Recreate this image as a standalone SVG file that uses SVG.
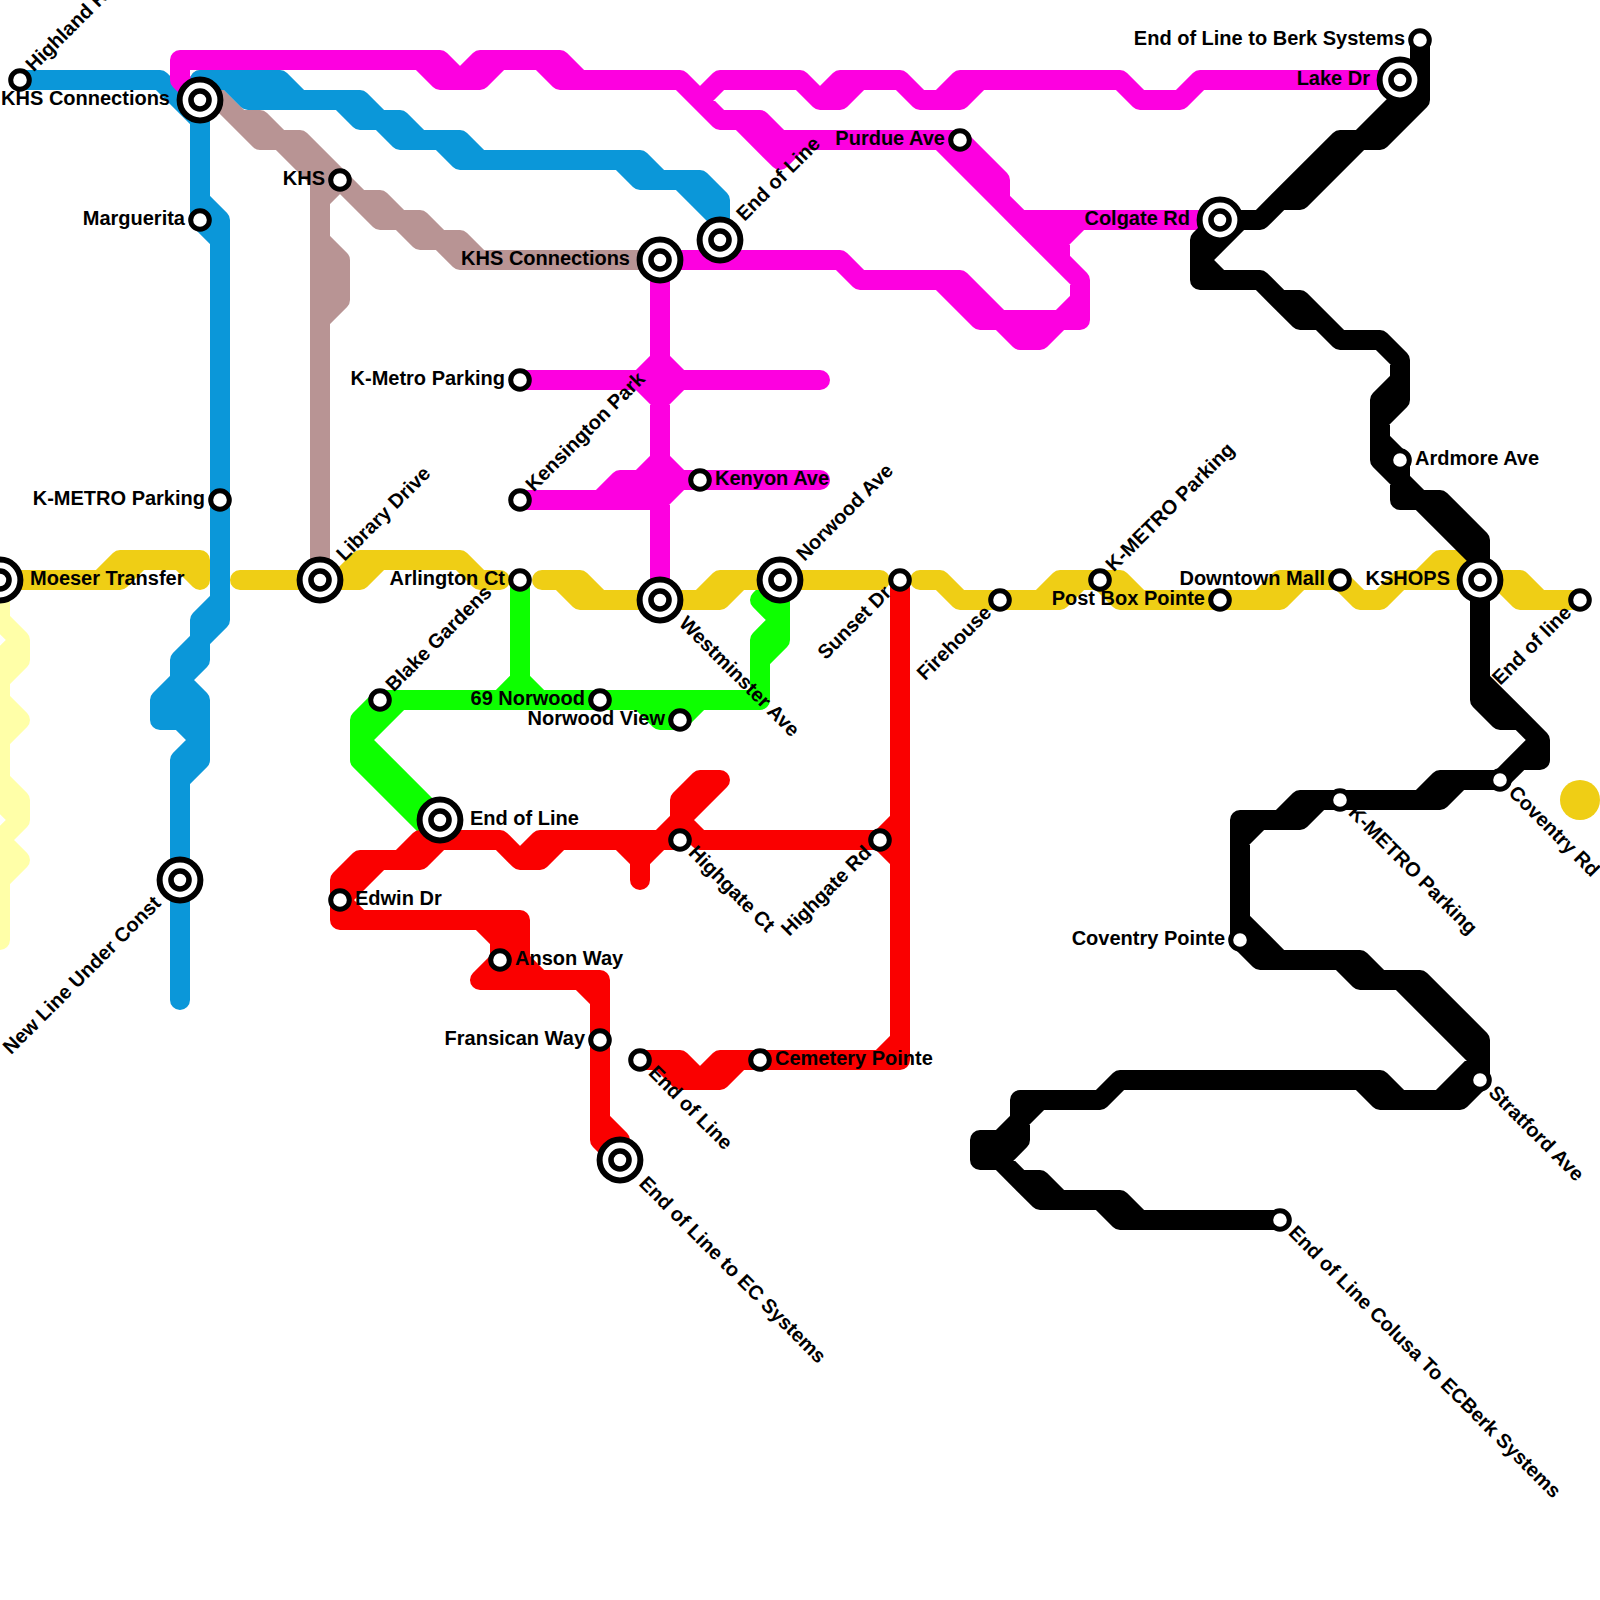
<svg xmlns="http://www.w3.org/2000/svg" width="1600" height="1600" viewBox="0 0 1600 1600">
<style>
.l{fill:none;stroke-width:20;stroke-linecap:round;stroke-linejoin:round}
.s{fill:#fff;stroke:#000;stroke-width:5}
.o{fill:#fff;stroke:#000;stroke-width:6}
.c{fill:#fff;stroke:#000;stroke-width:5.6}
text{font-family:"Liberation Sans",Arial,sans-serif;font-size:20px;font-weight:700;fill:#000}
.e{text-anchor:end}
</style>
<defs>
<g id="small"><circle class="s" r="9.3"/></g>
<g id="big"><circle class="o" r="20.4"/><circle class="c" r="9"/></g>
</defs>
<rect width="1600" height="1600" fill="#fff"/>
<g id="connectors">
<path class="l" stroke="#ffffa8" d="M0 580L0 620L20 640L20 660L0 680L0 700L20 720L0 740L0 780L20 800L20 820L0 840L20 860L0 880L0 940M20 640L0 660L0 780L0 800L20 820M0 840L0 880"/>
<path class="l" stroke="#0dff00" d="M520 580L520 700M500 700L520 680L540 700M380 700L760 700M400 700L360 740L440 820M380 700L360 720L360 760L440 840M640 700L660 720L680 720L700 700M780 580L780 640L760 660L760 700M780 620L760 640L760 660M780 580L760 600L780 620"/>
<path class="l" stroke="#efce15" d="M0 580L120 580L140 560L200 560L200 580M100 580L120 560L140 560M180 560L200 580M240 580L360 580L380 560M340 580L360 560L460 560L480 580L500 580M542 580L580 580L600 600L720 600L740 580L880 580M560 580L580 600L600 600M700 600L720 580L740 580M920 580L940 580L960 600L1040 600L1060 580L1120 580L1140 600L1280 600L1300 580L1340 580L1360 600L1380 600L1400 580L1520 580L1540 600L1580 600M1040 600L1060 600L1080 580M1100 580L1120 600L1140 600M1260 600L1280 580L1300 580M1420 580L1440 560L1460 560L1480 580M1500 580L1520 600L1540 600"/>
<circle cx="1580" cy="800" r="20" fill="#efce15"/>
<path class="l" stroke="#b89494" d="M200 80L260 140L280 140L320 180L320 580M240 120L260 120L280 140L300 140L380 220L400 220L420 240L440 240L460 260L660 260M360 200L380 200L400 220L420 220L440 240L460 240L480 260M340 180L320 200M320 240L340 260L340 300L320 320M330 250L330 310"/>
<path class="l" stroke="#0b97d9" d="M20 80L160 80L200 120L200 220L220 240L220 620L200 640L200 660L180 680L160 700L160 720L180 720L200 740L180 760L180 780M200 200L220 220L220 240M220 600L200 620L200 640L180 660L180 680L200 700L200 760L180 780L180 1000M160 700L180 700M170 710L190 710"/>
<path class="l" stroke="#fd00e0" d="M180 80L180 60L440 60L460 80L480 60L500 60L560 60L580 80L680 80L720 120L760 120L780 140L960 140L1000 180L1000 200L1080 280L1080 320L1000 320L960 280L860 280L840 260L660 260M180 80L200 100M420 60L440 80L480 80L500 60M540 60L560 80L580 80M700 100L720 80L800 80L820 100L840 100L860 80L900 80L920 100L960 100L980 80L1120 80L1140 100L1180 100L1200 80L1400 80M820 100L840 80L860 80M940 100L960 80L980 80M740 120L780 160L800 140M940 140L1000 200M1220 220L1020 220M1080 220L1060 240L1060 260M1040 232L1060 232M1050 245L1060 245M1080 300L1060 320M940 280L980 320L1000 320L1020 340L1040 340L1060 320M660 260L660 600M520 380L820 380M640 380L660 360L680 380L660 400ZM520 500L620 500L640 480M600 500L620 480L640 480L660 460L680 480L660 500ZM640 480L820 480"/>
<path class="l" stroke="#0b97d9" d="M200 80L280 80L300 100L360 100L380 120L400 120L420 140L460 140L480 160L640 160L660 180L700 180L720 200L720 240M228 80L248 100L340 100L360 120L380 120L400 140L440 140L460 160L620 160L640 180L680 180L720 220"/>
<path class="l" stroke="#fa0000" d="M340 920L340 880L360 860L420 860L440 840M380 860L340 900L360 920M340 920L520 920L520 960L540 980L600 980L600 1140L620 1160M480 920L500 940L500 960L480 980L580 980L600 1000M510 925L510 965M600 1120L620 1140M400 860L420 840L500 840L520 860L540 860L560 840L620 840L640 860L640 880M520 860L540 840L560 840M640 860L660 840L680 820L680 800L700 780L720 780L680 820L700 840L880 840L900 820M620 840L680 840M880 840L900 860M900 580L900 1060M900 1040L880 1060M640 1060L680 1060L700 1080L720 1080L740 1060L900 1060M700 1080L720 1060L740 1060M660 1060L680 1080L700 1080"/>
<path class="l" stroke="#000" d="M1420 40L1420 100L1380 140L1360 140L1300 200L1280 200L1260 220L1220 220L1200 240L1200 280L1260 280L1300 320L1320 320L1340 340L1380 340L1400 360L1400 400L1380 420L1380 460L1400 480L1400 500L1420 500L1480 560L1480 700L1500 720L1520 720L1540 740L1540 760L1520 760M1400 80L1400 100L1360 140L1340 140L1260 220M1240 220L1200 260L1220 280M1280 300L1300 300L1340 340M1400 380L1380 400L1380 420M1380 440L1400 460L1400 480L1420 500L1440 500L1480 540L1480 580M1480 680L1540 740L1500 780L1440 780L1420 800L1300 800L1280 820L1240 820L1240 940L1260 960L1360 960L1380 980L1420 980L1480 1040L1480 1080L1460 1100L1380 1100L1360 1080L1380 1080L1120 1080L1100 1100L1020 1100L1020 1140L1000 1160L980 1160L980 1140L1000 1140L1020 1120M1000 1160L1040 1200L1100 1200L1120 1220L1280 1220M1020 1180L1040 1180L1060 1200L1120 1200L1140 1220M1460 780L1440 800L1420 800M1320 800L1300 820L1260 820L1240 840M1240 920L1280 960M1340 960L1360 980L1400 980L1480 1060L1440 1100M1380 1080L1400 1100M1040 1100L1020 1120"/>
</g>
<g id="stations">
<g id="n1" transform="translate(0 580)"><use href="#big"/><text x="30" y="4.5">Moeser Transfer</text></g>
<g id="n2" transform="translate(200 100)"><use href="#big"/><text class="e" x="-30" y="4.5">KHS Connections</text></g>
<g id="n3" transform="translate(320 580)"><use href="#big"/><text x="30" y="4.5" transform="rotate(-45)">Library Drive</text></g>
<g id="n4" transform="translate(660 260)"><use href="#big"/><text class="e" x="-30" y="4.5">KHS Connections</text></g>
<g id="n5" transform="translate(720 240)"><use href="#big"/><text x="30" y="4.5" transform="rotate(-45)">End of Line</text></g>
<g id="n6" transform="translate(660 600)"><use href="#big"/><text x="30" y="4.5" transform="rotate(45)">Westminster Ave</text></g>
<g id="n7" transform="translate(780 580)"><use href="#big"/><text x="30" y="4.5" transform="rotate(-45)">Norwood Ave</text></g>
<g id="n8" transform="translate(440 820)"><use href="#big"/><text x="30" y="4.5">End of Line</text></g>
<g id="n9" transform="translate(180 880)"><use href="#big"/><text class="e" x="-30" y="4.5" transform="rotate(-45)">New Line Under Const</text></g>
<g id="n10" transform="translate(620 1160)"><use href="#big"/><text x="30" y="4.5" transform="rotate(45)">End of Line to EC Systems</text></g>
<g id="n11" transform="translate(1220 220)"><use href="#big"/><text class="e" x="-30" y="4.5">Colgate Rd</text></g>
<g id="n12" transform="translate(1400 80)"><use href="#big"/><text class="e" x="-30" y="4.5">Lake Dr</text></g>
<g id="n13" transform="translate(1480 580)"><use href="#big"/><text class="e" x="-30" y="4.5">KSHOPS</text></g>
<g id="n14" transform="translate(20 80)"><use href="#small"/><text x="15" y="4.5" transform="rotate(-45)">Highland Rd</text></g>
<g id="n15" transform="translate(340 180)"><use href="#small"/><text class="e" x="-15" y="4.5">KHS</text></g>
<g id="n16" transform="translate(200 220)"><use href="#small"/><text class="e" x="-15" y="4.5">Marguerita</text></g>
<g id="n17" transform="translate(220 500)"><use href="#small"/><text class="e" x="-15" y="4.5">K-METRO Parking</text></g>
<g id="n18" transform="translate(960 140)"><use href="#small"/><text class="e" x="-15" y="4.5">Purdue Ave</text></g>
<g id="n19" transform="translate(520 380)"><use href="#small"/><text class="e" x="-15" y="4.5">K-Metro Parking</text></g>
<g id="n20" transform="translate(520 500)"><use href="#small"/><text x="15" y="4.5" transform="rotate(-45)">Kensington Park</text></g>
<g id="n21" transform="translate(700 480)"><use href="#small"/><text x="15" y="4.5">Kenyon Ave</text></g>
<g id="n22" transform="translate(520 580)"><use href="#small"/><text class="e" x="-15" y="4.5">Arlington Ct</text></g>
<g id="n23" transform="translate(900 580)"><use href="#small"/><text class="e" x="-15" y="4.5" transform="rotate(-45)">Sunset Dr</text></g>
<g id="n24" transform="translate(1000 600)"><use href="#small"/><text class="e" x="-15" y="4.5" transform="rotate(-45)">Firehouse</text></g>
<g id="n25" transform="translate(1100 580)"><use href="#small"/><text x="15" y="4.5" transform="rotate(-45)">K-METRO Parking</text></g>
<g id="n26" transform="translate(1220 600)"><use href="#small"/><text class="e" x="-15" y="4.5">Post Box Pointe</text></g>
<g id="n27" transform="translate(1340 580)"><use href="#small"/><text class="e" x="-15" y="4.5">Downtown Mall</text></g>
<g id="n28" transform="translate(1580 600)"><use href="#small"/><text class="e" x="-15" y="4.5" transform="rotate(-45)">End of line</text></g>
<g id="n29" transform="translate(380 700)"><use href="#small"/><text x="15" y="4.5" transform="rotate(-45)">Blake Gardens</text></g>
<g id="n30" transform="translate(600 700)"><use href="#small"/><text class="e" x="-15" y="4.5">69 Norwood</text></g>
<g id="n31" transform="translate(680 720)"><use href="#small"/><text class="e" x="-15" y="4.5">Norwood View</text></g>
<g id="n32" transform="translate(340 900)"><use href="#small"/><text x="15" y="4.5">Edwin Dr</text></g>
<g id="n33" transform="translate(680 840)"><use href="#small"/><text x="15" y="4.5" transform="rotate(45)">Highgate Ct</text></g>
<g id="n34" transform="translate(880 840)"><use href="#small"/><text class="e" x="-15" y="4.5" transform="rotate(-45)">Highgate Rd</text></g>
<g id="n35" transform="translate(500 960)"><use href="#small"/><text x="15" y="4.5">Anson Way</text></g>
<g id="n36" transform="translate(600 1040)"><use href="#small"/><text class="e" x="-15" y="4.5">Fransican Way</text></g>
<g id="n37" transform="translate(640 1060)"><use href="#small"/><text x="15" y="4.5" transform="rotate(45)">End of Line</text></g>
<g id="n38" transform="translate(760 1060)"><use href="#small"/><text x="15" y="4.5">Cemetery Pointe</text></g>
<g id="n39" transform="translate(1420 40)"><use href="#small"/><text class="e" x="-15" y="4.5">End of Line to Berk Systems</text></g>
<g id="n40" transform="translate(1400 460)"><use href="#small"/><text x="15" y="4.5">Ardmore Ave</text></g>
<g id="n41" transform="translate(1340 800)"><use href="#small"/><text x="15" y="4.5" transform="rotate(45)">K-METRO Parking</text></g>
<g id="n42" transform="translate(1500 780)"><use href="#small"/><text x="15" y="4.5" transform="rotate(45)">Coventry Rd</text></g>
<g id="n43" transform="translate(1240 940)"><use href="#small"/><text class="e" x="-15" y="4.5">Coventry Pointe</text></g>
<g id="n44" transform="translate(1480 1080)"><use href="#small"/><text x="15" y="4.5" transform="rotate(45)">Stratford Ave</text></g>
<g id="n45" transform="translate(1280 1220)"><use href="#small"/><text x="15" y="4.5" transform="rotate(45)">End of Line Colusa To ECBerk Systems</text></g>
</g>
</svg>
